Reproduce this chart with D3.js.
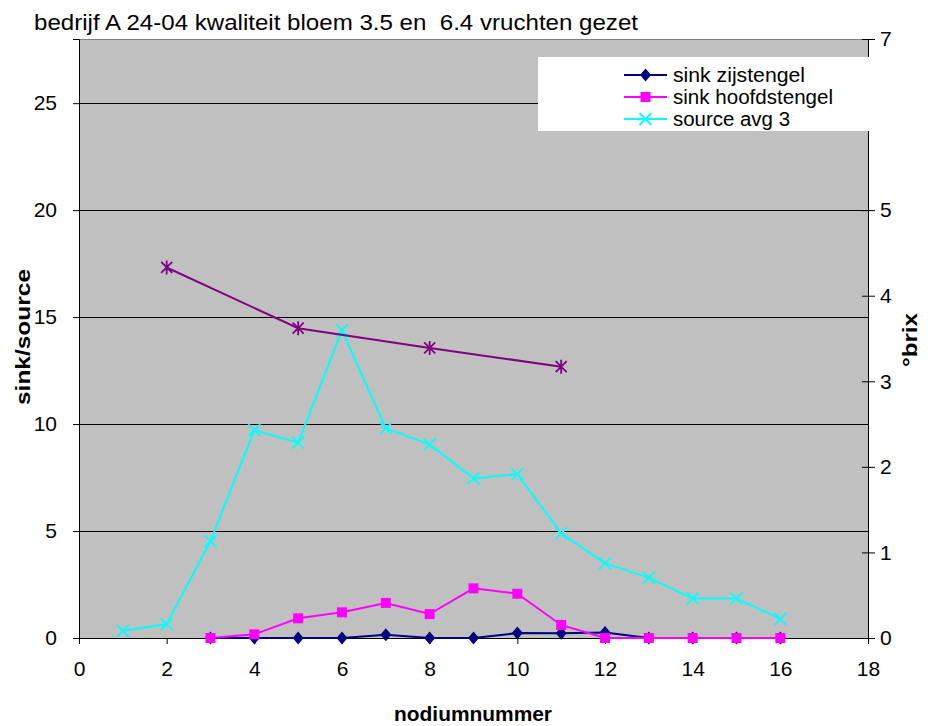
<!DOCTYPE html>
<html><head><meta charset="utf-8">
<script src="https://cdn.jsdelivr.net/npm/d3@7"></script>
<style>
html,body{margin:0;padding:0;background:#fff;}
text{font-family:"Liberation Sans",Arial,sans-serif;fill:#000;}
</style></head>
<body><svg id="c" width="928" height="726"></svg>
<script>
// ---- data ----
const titleText = "bedrijf A 24-04 kwaliteit bloem 3.5 en  6.4 vruchten gezet";
const xTicks = [0, 2, 4, 6, 8, 10, 12, 14, 16, 18];
const yLeftTicks = [0, 5, 10, 15, 20, 25];
const yRightTicks = [0, 1, 2, 3, 4, 5, 6, 7];
const yRightLabels = ["0", "1", "2", "3", "4", "5", "", "7"];

const zijX = [3, 4, 5, 6, 7, 8, 9, 10, 11, 12, 13, 14, 15, 16];
const zijY = [0, 0, 0, 0, 0.15, 0, 0, 0.23, 0.22, 0.26, 0, 0, 0, 0];
const hoofdX = [3, 4, 5, 6, 7, 8, 9, 10, 11, 12, 13, 14, 15, 16];
const hoofdY = [0, 0.17, 0.92, 1.2, 1.64, 1.12, 2.32, 2.07, 0.61, 0, 0, 0, 0, 0];
const sourceX = [1, 2, 3, 4, 5, 6, 7, 8, 9, 10, 11, 12, 13, 14, 15, 16];
const sourceY = [0.33, 0.65, 4.53, 9.72, 9.13, 14.39, 9.8, 9.05, 7.46, 7.66, 4.89, 3.49, 2.82, 1.85, 1.85, 0.89];
const brixX = [2, 5, 8, 11];
const brixY = [4.33, 3.62, 3.39, 3.17];

const legendNames = ["sink zijstengel", "sink hoofdstengel", "source avg 3"];

// ---- layout ----
const L = 79, R = 868, T = 39, B = 638;
const FONT = '"Liberation Sans",Arial,sans-serif';
const svg = d3.select("#c");
const x = d3.scaleLinear().domain([0, 18]).range([L, R]);
const yL = d3.scaleLinear().domain([0, 28]).range([B, T]);
const yR = d3.scaleLinear().domain([0, 7]).range([B, T]);

svg.append("rect").attr("x", L).attr("y", T).attr("width", R - L).attr("height", B - T).attr("fill", "#c0c0c0");
svg.append("line").attr("x1", L).attr("x2", R).attr("y1", T + 0.5).attr("y2", T + 0.5).attr("stroke", "#808080");

// gridlines
svg.append("g").selectAll("line").data(yLeftTicks.filter(d => d > 0)).join("line")
  .attr("x1", L).attr("x2", R)
  .attr("y1", d => Math.round(yL(d)) + 0.5).attr("y2", d => Math.round(yL(d)) + 0.5)
  .attr("stroke", "#000").attr("stroke-width", 1);

// axes
const fs = "21px";
const gx = svg.append("g").attr("transform", `translate(0,${B})`)
  .call(d3.axisBottom(x).tickValues(xTicks).tickSize(6).tickPadding(10).tickFormat(d3.format("d")));
const gl = svg.append("g").attr("transform", `translate(${L},0)`)
  .call(d3.axisLeft(yL).tickValues(yLeftTicks).tickSize(6).tickPadding(16).tickFormat(d3.format("d")));
const gr = svg.append("g").attr("transform", `translate(${R},0)`)
  .call(d3.axisRight(yR).tickValues(yRightTicks).tickSize(7).tickPadding(5).tickFormat((d, i) => yRightLabels[i]));
gr.selectAll(".tick line").attr("x1", -6);
[gx, gl, gr].forEach(g => {
  g.selectAll(".domain").attr("stroke", "#000");
  g.selectAll(".tick line").attr("stroke", "#000");
  g.selectAll("text").style("font-size", fs).style("font-family", FONT).attr("fill", "#000");
});
gx.selectAll("text").attr("y", 38).attr("dy", 0);

// series
function drawLine(xs, ys, yScale, color) {
  const pts = xs.map((d, i) => [x(d), yScale(ys[i])]);
  svg.append("path").attr("d", d3.line()(pts)).attr("fill", "none").attr("stroke", color).attr("stroke-width", 2);
  return pts;
}
function diamond(g, cx, cy, c) {
  g.append("path").attr("d", `M${cx},${cy - 6.5}L${cx + 5.5},${cy}L${cx},${cy + 6.5}L${cx - 5.5},${cy}Z`).attr("fill", c);
}
function square(g, cx, cy, c) {
  g.append("rect").attr("x", cx - 5).attr("y", cy - 5).attr("width", 10).attr("height", 10).attr("fill", c);
}
function cross(g, cx, cy, c) {
  g.append("path").attr("d", `M${cx - 6},${cy - 6}L${cx + 6},${cy + 6}M${cx - 6},${cy + 6}L${cx + 6},${cy - 6}`)
    .attr("stroke", c).attr("stroke-width", 1.8).attr("fill", "none");
}
function star(g, cx, cy, c) {
  g.append("path").attr("d", `M${cx - 5.5},${cy - 5.5}L${cx + 5.5},${cy + 5.5}M${cx - 5.5},${cy + 5.5}L${cx + 5.5},${cy - 5.5}M${cx},${cy - 7}L${cx},${cy + 7}`)
    .attr("stroke", c).attr("stroke-width", 1.8).attr("fill", "none");
}

const mg = svg.append("g");
drawLine(zijX, zijY, yL, "#000080").forEach(p => diamond(mg, p[0], p[1], "#000080"));
const mg2 = svg.append("g");
drawLine(hoofdX, hoofdY, yL, "#ff00ff").forEach(p => square(mg2, p[0], p[1], "#ff00ff"));
const mg3 = svg.append("g");
drawLine(sourceX, sourceY, yL, "#00ffff").forEach(p => cross(mg3, p[0], p[1], "#00ffff"));
const mg4 = svg.append("g");
drawLine(brixX, brixY, yR, "#800080").forEach(p => star(mg4, p[0], p[1], "#800080"));

// legend
const lg = svg.append("g");
lg.append("rect").attr("x", 538).attr("y", 57).attr("width", 340).attr("height", 74).attr("fill", "#fff");
const rowsY = [75, 97, 119];
const legendW = [132, 160, 117];
const colors = ["#000080", "#ff00ff", "#00ffff"];
const mk = [diamond, square, cross];
legendNames.forEach((n, i) => {
  lg.append("line").attr("x1", 624).attr("x2", 667).attr("y1", rowsY[i]).attr("y2", rowsY[i]).attr("stroke", colors[i]).attr("stroke-width", 2);
  mk[i](lg, 645.5, rowsY[i], colors[i]);
  lg.append("text").attr("x", 673).attr("y", rowsY[i]).attr("dy", "0.35em").style("font-size", "20px")
    .attr("textLength", legendW[i]).attr("lengthAdjust", "spacingAndGlyphs").text(n);
});

// titles
svg.append("text").attr("x", 34).attr("y", 30).attr("xml:space", "preserve").style("white-space", "pre")
  .style("font-size", "22px").attr("textLength", 604).attr("lengthAdjust", "spacingAndGlyphs").text(titleText);
svg.append("text").attr("transform", "translate(30,337) rotate(-90)").attr("text-anchor", "middle")
  .style("font-size", "20px").style("font-weight", "bold")
  .attr("textLength", 136).attr("lengthAdjust", "spacingAndGlyphs").text("sink/source");
svg.append("text").attr("transform", "translate(917,340) rotate(-90)").attr("text-anchor", "middle")
  .style("font-size", "20px").style("font-weight", "bold")
  .attr("textLength", 54).attr("lengthAdjust", "spacingAndGlyphs").text("°brix");
svg.append("text").attr("x", 473).attr("y", 721).attr("text-anchor", "middle")
  .style("font-size", "20px").style("font-weight", "bold")
  .attr("textLength", 158).attr("lengthAdjust", "spacingAndGlyphs").text("nodiumnummer");
</script></body></html>
